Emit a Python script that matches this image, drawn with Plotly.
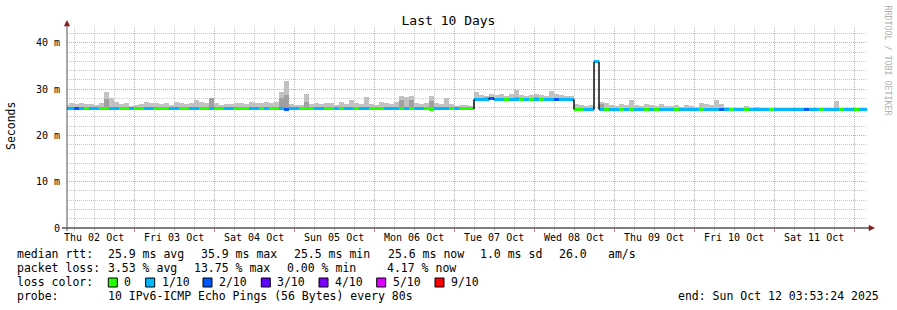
import pandas as pd
import plotly.graph_objects as go

# ---------------- data ----------------
TITLE = "Last 10 Days"
START = "2025-10-02 03:53:24"
END = "2025-10-12 03:53:24"
FIRST_BIN = "2025-10-02 02:59:24"
BIN_MINUTES = 90

# median rtt per 90-minute bin (ms)
median_ms = [
    25.7, 25.7, 25.7, 25.7, 25.7, 25.7, 25.7, 25.7, 25.7, 25.7, 25.7, 25.7, 25.7, 25.7, 25.7, 25.7, 25.7, 25.7, 25.7, 25.7,
    25.7, 25.7, 25.7, 25.7, 25.7, 25.7, 25.7, 25.7, 25.7, 25.7, 25.7, 25.7, 25.7, 25.7, 25.7, 25.7, 25.7, 25.7, 25.7, 25.7,
    25.7, 25.7, 25.7, 25.7, 25.6, 25.7, 25.7, 25.7, 25.7, 25.7, 25.7, 25.7, 25.7, 25.7, 25.7, 25.7, 25.7, 25.7, 25.7, 25.7,
    25.7, 25.7, 25.7, 25.7, 25.7, 25.7, 25.7, 25.7, 25.7, 25.7, 25.7, 25.7, 25.7, 25.6, 25.7, 25.7, 25.7, 25.7, 25.7, 25.7,
    25.7, 25.7, 27.8, 27.8, 27.8, 28.0, 27.8, 27.8, 27.8, 27.8, 27.8, 27.8, 27.8, 27.8, 27.8, 27.8, 27.8, 27.8, 27.8, 27.8,
    27.8, 27.8, 25.6, 25.6, 25.6, 25.6, 35.9, 25.6, 25.6, 25.6, 25.6, 25.6, 25.6, 25.6, 25.6, 25.6, 25.6, 25.6, 25.6, 25.6,
    25.6, 25.6, 25.6, 25.6, 25.6, 25.6, 25.6, 25.6, 25.6, 25.6, 25.6, 25.6, 25.6, 25.6, 25.6, 25.6, 25.6, 25.6, 25.6, 25.6,
    25.6, 25.6, 25.6, 25.6, 25.6, 25.6, 25.6, 25.6, 25.6, 25.6, 25.6, 25.6, 25.6, 25.6, 25.6, 25.6, 25.6, 25.6, 25.6, 25.6, 25.6,
]

# top of the smoke (max ping) per bin (ms)
smoke_top_ms = [
    26.6, 26.9, 26.8, 27.0, 26.7, 26.8, 26.6, 27.0, 29.4, 28.0, 27.1, 26.8, 27.0, 26.4, 26.6, 26.8, 27.2, 26.9, 27.0, 26.7,
    27.0, 26.6, 27.2, 27.0, 26.8, 27.0, 27.6, 27.1, 26.9, 28.0, 27.0, 26.6, 26.7, 26.8, 26.9, 27.0, 26.8, 27.2, 26.9, 27.0,
    27.3, 26.9, 27.1, 29.4, 31.7, 26.8, 26.6, 26.5, 28.9, 26.8, 27.0, 26.7, 27.0, 26.9, 26.6, 27.2, 26.7, 27.6, 26.9, 26.8,
    28.2, 26.8, 26.6, 27.3, 27.0, 26.8, 27.1, 28.4, 28.2, 28.4, 27.0, 26.8, 26.9, 28.4, 27.0, 26.7, 28.0, 26.8, 26.4, 26.6,
    26.5, 26.3, 29.3, 28.8, 28.6, 28.9, 28.7, 29.0, 28.6, 28.9, 29.9, 28.8, 28.6, 28.7, 29.0, 28.8, 28.6, 29.6, 28.9, 28.7,
    28.6, 28.5, 26.8, 26.5, 26.4, 26.6, 26.0, 27.3, 26.9, 26.6, 26.4, 26.8, 26.5, 27.6, 26.6, 26.4, 26.7, 26.5, 26.3, 26.8,
    26.4, 26.3, 26.5, 26.2, 26.6, 26.3, 26.1, 26.9, 26.7, 26.5, 27.6, 26.8, 26.2, 26.0, 25.9, 25.9, 26.4, 26.0, 26.2, 25.9,
    25.9, 25.9, 25.9, 25.9, 25.9, 25.9, 25.9, 25.9, 26.0, 25.9, 25.9, 26.0, 25.9, 25.9, 27.4, 25.9, 25.9, 25.9, 25.9, 25.9, 25.9,
]

# darker inner smoke (bin index, top ms)
dark_bins = [8, 29, 43, 44, 48, 67, 69, 73, 84, 90, 94, 97, 107]
dark_top_ms = [27.8, 28.0, 28.0, 28.8, 27.2, 27.6, 27.6, 27.4, 28.3, 28.2, 28.3, 28.0, 26.8]

# packet loss per bin (lost pings out of 10)
loss_code = [
    1, 1, 2, 1, 0, 1, 1, 0, 0, 1, 1, 0, 0, 1, 0, 0, 1, 1, 0, 0,
    0, 1, 1, 0, 0, 1, 1, 0, 0, 1, 0, 0, 1, 1, 0, 0, 0, 1, 1, 0,
    1, 0, 0, 1, 2, 1, 1, 0, 0, 0, 1, 1, 0, 0, 1, 0, 1, 1, 0, 1,
    1, 0, 0, 0, 1, 1, 1, 0, 1, 0, 1, 1, 0, 0, 1, 1, 1, 0, 1, 0,
    0, 0, 1, 1, 1, 2, 1, 1, 0, 1, 1, 0, 1, 0, 1, 0, 1, 1, 2, 1,
    1, 1, 0, 0, 1, 1, 1, 1, 0, 1, 1, 0, 1, 0, 1, 1, 0, 1, 0, 1,
    1, 1, 0, 1, 1, 1, 1, 0, 1, 1, 1, 2, 1, 0, 1, 1, 0, 1, 1, 1,
    1, 0, 1, 1, 1, 1, 1, 1, 2, 1, 1, 0, 1, 1, 1, 0, 1, 1, 0, 1, 1,
]

y_tick_vals = [0, 10, 20, 30, 40]
y_tick_text = ["0", "10 m", "20 m", "30 m", "40 m"]
day_labels = ["Thu 02 Oct", "Fri 03 Oct", "Sat 04 Oct", "Sun 05 Oct", "Mon 06 Oct",
              "Tue 07 Oct", "Wed 08 Oct", "Thu 09 Oct", "Fri 10 Oct", "Sat 11 Oct"]
loss_labels = ["0", "1/10", "2/10", "3/10", "4/10", "5/10", "9/10"]
loss_colors = ["#26ff00", "#00b8ff", "#0059ff", "#5e00ff", "#7e00ff", "#dd00ff", "#ff0000"]

rtt_line = ["median rtt:", "25.9 ms avg", "35.9 ms max", "25.5 ms min", "25.6 ms now", "1.0 ms sd", "26.0", "am/s"]
loss_line = ["packet loss:", "3.53 % avg", "13.75 % max", "0.00 % min", "4.17 % now"]
probe_line = ["probe:", "10 IPv6-ICMP Echo Pings (56 Bytes) every 80s"]
end_text = "end: Sun Oct 12 03:53:24 2025"

# ---------------- layout constants ----------------
W, H = 897, 310
PL, PR, PT, PB = 67, 867, 27, 228
FONT = "DejaVu Sans Mono"
Y_MAX = 43.4
BAND_MS = 3 * Y_MAX / (PB - PT)   # 3 px thick median band


def px(x):
    return (x - PL) / (PR - PL)


def py(y):
    return (PB - y) / (PB - PT)


step = pd.Timedelta(minutes=BIN_MINUTES)
lefts = pd.date_range(FIRST_BIN, periods=len(median_ms), freq=f"{BIN_MINUTES}min")
rights = lefts + step
centers = lefts + step / 2
width_ms = BIN_MINUTES * 60 * 1000

fig = go.Figure()

# smoke (light)
base = [min(m, t) for m, t in zip(median_ms, smoke_top_ms)]
heights = [max(t - m, 0) for m, t in zip(median_ms, smoke_top_ms)]
fig.add_trace(go.Bar(x=centers, y=heights, base=base, width=width_ms,
                     marker=dict(color="#c2c2c2", line=dict(width=0)),
                     showlegend=False, hoverinfo="skip"))
# smoke (dark inner)
fig.add_trace(go.Bar(x=[centers[i] for i in dark_bins],
                     y=[t - median_ms[i] for i, t in zip(dark_bins, dark_top_ms)],
                     base=[median_ms[i] for i in dark_bins], width=width_ms,
                     marker=dict(color="#a0a0a0", line=dict(width=0)),
                     showlegend=False, hoverinfo="skip"))

# median band coloured by loss
for code in sorted(set(loss_code)):
    idx = [i for i, c in enumerate(loss_code) if c == code]
    fig.add_trace(go.Bar(x=[centers[i] for i in idx], y=[BAND_MS] * len(idx),
                         base=[median_ms[i] - BAND_MS / 2 for i in idx], width=width_ms,
                         marker=dict(color=loss_colors[code], line=dict(width=0)),
                         showlegend=False, hoverinfo="skip"))

# black vertical connectors where the median steps
vx, vy = [], []
for i in range(len(median_ms) - 1):
    if median_ms[i] != median_ms[i + 1] and abs(median_ms[i] - median_ms[i + 1]) > 0.15:
        vx += [rights[i], rights[i], None]
        vy += [median_ms[i], median_ms[i + 1], None]
fig.add_trace(go.Scatter(x=vx, y=vy, mode="lines", line=dict(color="#000000", width=1.4),
                         showlegend=False, hoverinfo="skip"))

minor_grid = "#c8c8c8"
major_grid = "#e8a0a0"

fig.update_xaxes(
    range=[START, END], type="date",
    tickmode="linear", tick0="2025-10-03 00:00", dtick=86400000,
    showticklabels=False, showgrid=True, gridcolor=major_grid, griddash="1px,1px", gridwidth=1,
    ticks="outside", ticklen=3, tickcolor="#e08080",
    minor=dict(tick0="2025-10-02 00:00", dtick=21600000, showgrid=True,
               gridcolor=minor_grid, griddash="1px,1px", gridwidth=1,
               ticks="outside", ticklen=2, tickcolor="#bbbbbb"),
    showline=False, zeroline=False, fixedrange=True,
)
fig.update_yaxes(
    range=[0, Y_MAX], tickmode="array", tickvals=y_tick_vals, ticktext=y_tick_text,
    tickfont=dict(family=FONT, size=10, color="#000000"),
    showgrid=True, gridcolor=major_grid, griddash="1px,1px", gridwidth=1,
    ticks="outside", ticklen=4, tickcolor="rgba(0,0,0,0)",
    minor=dict(tick0=0, dtick=2, showgrid=True, gridcolor=minor_grid,
               griddash="1px,1px", gridwidth=1),
    showline=False, zeroline=False, fixedrange=True,
)

shapes = [
    # x axis line + arrow
    dict(type="line", xref="paper", yref="paper", x0=px(62), x1=px(869), y0=py(228), y1=py(228),
         line=dict(color="#000000", width=1)),
    dict(type="path", xref="paper", yref="paper",
         path=f"M {px(869)} {py(225.3)} L {px(874.5)} {py(228)} L {px(869)} {py(230.7)} Z",
         fillcolor="#8b1a1a", line=dict(color="#8b1a1a", width=0.5)),
    # y axis line + arrow
    dict(type="line", xref="paper", yref="paper", x0=px(67), x1=px(67), y0=py(231), y1=py(26),
         line=dict(color="#555555", width=1)),
    dict(type="path", xref="paper", yref="paper",
         path=f"M {px(64.3)} {py(26)} L {px(67)} {py(20.5)} L {px(69.7)} {py(26)} Z",
         fillcolor="#8b1a1a", line=dict(color="#8b1a1a", width=0.5)),
]

annotations = []
# day labels
noon_times = pd.date_range("2025-10-02 12:00", periods=len(day_labels), freq="D")
for t, lab in zip(noon_times, day_labels):
    annotations.append(dict(x=t, y=py(237.7), xref="x", yref="paper", text=lab, showarrow=False,
                            xanchor="center", yanchor="middle", borderpad=0,
                            font=dict(family=FONT, size=10, color="#000000")))

# y axis title
annotations.append(dict(x=px(11), y=py(126), xref="paper", yref="paper", text="Seconds",
                        textangle=-90, showarrow=False, xanchor="center", yanchor="middle",
                        font=dict(family=FONT, size=11.5, color="#000000")))
# watermark
annotations.append(dict(x=px(887.5), y=py(60), xref="paper", yref="paper", text="RRDTOOL / TOBI OETIKER",
                        textangle=90, showarrow=False, xanchor="center", yanchor="middle",
                        font=dict(family=FONT, size=8.3, color="#b0b0b0")))


def text_at(x, y, s, anchor="left"):
    annotations.append(dict(x=px(x), y=py(y), xref="paper", yref="paper", text=s.replace(" ", "&nbsp;"),
                            showarrow=False, xanchor=anchor, yanchor="middle", borderpad=0,
                            font=dict(family=FONT, size=11.5, color="#000000")))


rtt_x = [16, 107.3, 200, 293.3, 386.7, 479.3, 558.3, 607.3]
for x, s in zip(rtt_x, rtt_line):
    text_at(x, 254.3, s)
loss_x = [16, 107.3, 193, 286, 386]
for x, s in zip(loss_x, loss_line):
    text_at(x, 268.3, s)
text_at(16, 282.3, "loss color:")
box_x = [108.3, 145.7, 203, 261.3, 319, 376.7, 435]
for x, lab, col in zip(box_x, loss_labels, loss_colors):
    shapes.append(dict(type="rect", xref="paper", yref="paper", x0=px(x), x1=px(x + 9),
                       y0=py(287), y1=py(278), fillcolor=col, line=dict(color="#000000", width=1)))
    text_at(x + 15, 282.3, lab)
text_at(16, 296.3, probe_line[0])
text_at(107.3, 296.3, probe_line[1])
text_at(880, 296.3, end_text, anchor="right")

fig.update_layout(
    width=W, height=H, autosize=False,
    margin=dict(l=PL, r=W - PR, t=PT, b=H - PB, pad=0),
    paper_bgcolor="#ffffff", plot_bgcolor="#ffffff",
    barmode="overlay", bargap=0,
    showlegend=False,
    title=dict(text=TITLE, x=0.5, xanchor="center", y=1 - 20 / H, yanchor="middle",
               font=dict(family=FONT, size=13, color="#000000")),
    shapes=shapes, annotations=annotations,
    font=dict(family=FONT),
)

fig.write_html("out.html")
